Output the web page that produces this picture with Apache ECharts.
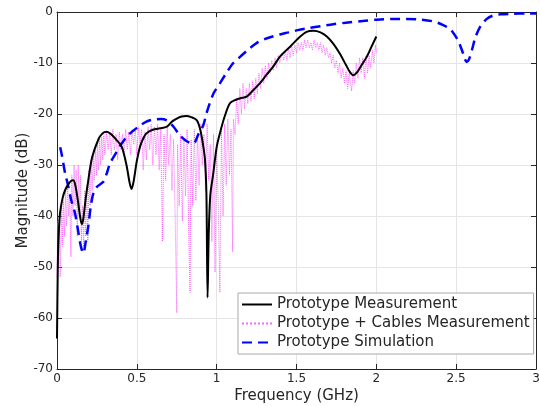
<!DOCTYPE html>
<html><head><meta charset="utf-8">
<script src="https://cdn.jsdelivr.net/npm/echarts@6/dist/echarts.min.js"></script>
<style>html,body{margin:0;padding:0;background:#fff}#c{width:540px;height:406px}</style>
</head><body><div id="c"></div>
<script>
const xTicks = [0, 0.5, 1, 1.5, 2, 2.5, 3];
const yTicks = [-70, -60, -50, -40, -30, -20, -10, 0];

const measFreq = [0,0.005,0.01,0.019,0.035,0.05,0.07,0.09,0.102,0.115,0.13,0.145,0.155,0.165,0.18,0.196,0.22,0.259,0.285,0.311,0.34,0.37,0.405,0.435,0.455,0.467,0.48,0.5,0.52,0.54,0.56,0.6,0.645,0.687,0.72,0.75,0.78,0.81,0.84,0.875,0.895,0.912,0.927,0.936,0.943,0.95,0.96,0.979,1.0,1.02,1.05,1.083,1.12,1.16,1.188,1.23,1.27,1.31,1.354,1.4,1.46,1.52,1.563,1.605,1.65,1.69,1.73,1.77,1.81,1.835,1.855,1.88,1.91,1.94,1.97,2.0];
const measDb = [-64,-50,-44,-39.4,-36.5,-35,-33.8,-33.1,-33,-34,-36.8,-40.2,-41.6,-40.5,-36.5,-33,-28.5,-25,-23.8,-23.5,-24,-25,-26.4,-30,-33.5,-34.7,-33.2,-29.2,-26.4,-24.8,-23.8,-23.1,-22.8,-22.5,-21.5,-20.9,-20.5,-20.4,-20.6,-21.2,-22.8,-25.5,-29,-36,-56,-44,-36,-31.6,-26.5,-23.8,-20.5,-17.9,-17.2,-16.8,-16.6,-15.3,-14,-12.4,-10.7,-8.6,-6.8,-4.9,-3.9,-3.7,-4.0,-4.8,-6.2,-8.1,-10.4,-11.8,-12.4,-11.8,-10.3,-8.8,-6.8,-4.8];

const cableFreq = [0,0.005,0.01,0.015,0.02,0.027,0.033,0.04,0.047,0.053,0.06,0.067,0.073,0.08,0.087,0.093,0.1,0.107,0.113,0.12,0.127,0.133,0.14,0.147,0.153,0.16,0.167,0.173,0.18,0.187,0.193,0.2,0.207,0.213,0.22,0.227,0.233,0.24,0.247,0.253,0.26,0.267,0.273,0.28,0.287,0.293,0.3,0.31,0.32,0.33,0.34,0.35,0.36,0.37,0.38,0.39,0.4,0.41,0.42,0.43,0.44,0.45,0.46,0.47,0.48,0.49,0.5,0.51,0.52,0.53,0.54,0.55,0.56,0.57,0.58,0.59,0.6,0.61,0.62,0.63,0.64,0.65,0.66,0.67,0.68,0.69,0.7,0.71,0.72,0.73,0.74,0.75,0.755,0.765,0.775,0.785,0.795,0.805,0.815,0.825,0.833,0.84,0.85,0.86,0.87,0.88,0.89,0.9,0.91,0.92,0.93,0.94,0.95,0.96,0.97,0.98,0.99,1.0,1.01,1.02,1.03,1.04,1.05,1.06,1.07,1.08,1.09,1.1,1.105,1.115,1.125,1.135,1.145,1.155,1.165,1.175,1.185,1.195,1.205,1.215,1.225,1.235,1.245,1.255,1.265,1.275,1.285,1.295,1.305,1.315,1.325,1.335,1.345,1.355,1.365,1.375,1.385,1.395,1.41,1.42,1.43,1.44,1.45,1.46,1.47,1.48,1.49,1.5,1.51,1.52,1.53,1.54,1.55,1.56,1.57,1.58,1.59,1.6,1.61,1.62,1.63,1.64,1.65,1.66,1.67,1.68,1.69,1.7,1.71,1.72,1.73,1.74,1.75,1.76,1.77,1.78,1.79,1.8,1.81,1.82,1.83,1.845,1.855,1.865,1.875,1.885,1.895,1.905,1.915,1.925,1.935,1.945,1.955,1.965,1.975,1.985,1.995,2.0];
const cableDb = [-52,-41,-50,-40,-52,-38,-46,-37,-44,-35,-42,-33,-40,-36,-48,-32,-40,-30,-38,-31,-44,-30,-40,-32,-45,-38,-46,-35,-44,-34,-45,-31,-38,-29,-35,-28,-33,-27,-32,-26,-31,-25,-30,-24.5,-29,-24,-28,-23.5,-27,-23.5,-28,-23,-27,-24,-29,-23.5,-27,-24,-28,-23,-27,-23.5,-28,-23,-26,-23,-28,-22.5,-26,-23,-31,-23.5,-29,-22.5,-27,-22,-30,-22.5,-28,-22,-31,-23,-45,-24,-33,-22.5,-30,-24,-35,-25,-40,-59,-26,-38,-24,-41,-25,-36,-23,-43,-55,-25,-38,-23,-37,-24,-34,-22,-30,-24,-35,-22,-33,-26,-45,-24,-51,-26,-38,-55,-23,-40,-22,-34,-21,-32,-23,-47,-21,-24,-17,-22,-15,-20,-14,-19,-15,-18,-14,-17.5,-13.5,-17,-13,-16,-12,-15,-11,-14,-10.5,-13,-10,-12,-9.5,-11.5,-9,-11,-8.5,-10,-8,-9.5,-7.5,-9.5,-7,-9,-6.5,-8.5,-6.5,-8,-6,-7.5,-6,-7.5,-5.5,-7,-5.5,-7,-6,-7.5,-5.5,-7,-6,-7.5,-6,-8,-6.5,-8.5,-7,-9,-8,-10,-8.5,-11,-9.5,-12,-10,-13,-11,-14,-11.5,-15,-12,-15.5,-11.5,-14,-10,-13,-9,-12,-9,-13,-8.5,-12,-8.5,-11,-7.5,-10,-6.5,-8];

const simFreq = [0.02,0.03,0.05,0.071,0.09,0.113,0.13,0.15,0.165,0.18,0.196,0.212,0.228,0.25,0.29,0.31,0.332,0.37,0.405,0.45,0.51,0.56,0.6,0.65,0.69,0.73,0.77,0.81,0.854,0.885,0.916,0.94,0.98,1.02,1.06,1.104,1.15,1.2,1.25,1.3,1.35,1.396,1.45,1.5,1.563,1.65,1.73,1.81,1.9,2.0,2.1,2.19,2.28,2.35,2.4,2.45,2.48,2.51,2.534,2.555,2.565,2.58,2.6,2.62,2.65,2.69,2.73,2.78,2.85,2.95,3.0];
const simDb = [-26.5,-28,-31.5,-34.2,-37,-39.5,-42.5,-46,-47.3,-45,-42,-38,-35.5,-34.3,-33.3,-31.8,-29.7,-27.6,-25.8,-24,-22.5,-21.5,-21.1,-21,-21.3,-22.5,-24.2,-25.3,-25.8,-24,-22.2,-19.5,-16,-14,-12,-10,-8.7,-7.3,-6.1,-5.3,-4.8,-4.4,-4,-3.6,-3.2,-2.8,-2.4,-2.1,-1.8,-1.5,-1.35,-1.35,-1.5,-1.8,-2.3,-3.1,-4,-5.5,-7.3,-9.2,-9.8,-9.3,-7.3,-5,-2.9,-1.4,-0.7,-0.45,-0.35,-0.3,-0.3];

const zip = (a, b) => a.map((x, i) => [x, b[i]]);
const FONT = 'DejaVu Sans';
const txt = '#262626';
function axLine() { return {show: true, onZero: false, lineStyle: {color: '#262626', width: 1}}; }
function axTick() { return {show: true, inside: true, length: 5, lineStyle: {color: '#262626', width: 1}}; }
const chart = echarts.init(document.getElementById('c'), null, {renderer: 'canvas'});
chart.setOption({
  animation: false,
  backgroundColor: '#fff',
  grid: {left: 57, right: 4, top: 12, bottom: 37, show: false, containLabel: false, outerBoundsMode: 'none'},
  xAxis: [{
    type: 'value', position: 'bottom', min: xTicks[0], max: xTicks[xTicks.length - 1], interval: 0.5,
    name: 'Frequency (GHz)', nameLocation: 'middle', nameGap: 20, nameMoveOverlap: false,
    nameTextStyle: {fontFamily: FONT, fontSize: 15, color: txt},
    axisLabel: {fontFamily: FONT, fontSize: 12, color: txt, margin: 4},
    splitLine: {show: true, lineStyle: {color: '#e5e5e5'}},
    axisLine: axLine(), axisTick: axTick()
  }, {
    type: 'value', position: 'top', min: 0, max: 3, interval: 0.5,
    axisLabel: {show: false}, splitLine: {show: false},
    axisLine: axLine(), axisTick: axTick()
  }],
  yAxis: [{
    type: 'value', position: 'left', min: yTicks[0], max: yTicks[yTicks.length - 1], interval: 10,
    name: 'Magnitude (dB)', nameLocation: 'middle', nameGap: 26, nameMoveOverlap: false,
    nameTextStyle: {fontFamily: FONT, fontSize: 15, color: txt},
    axisLabel: {fontFamily: FONT, fontSize: 12, color: txt, margin: 4},
    splitLine: {show: true, lineStyle: {color: '#e5e5e5'}},
    axisLine: axLine(), axisTick: axTick()
  }, {
    type: 'value', position: 'right', min: -70, max: 0, interval: 10,
    axisLabel: {show: false}, splitLine: {show: false},
    axisLine: axLine(), axisTick: axTick()
  }],
  legend: {
    left: 238, top: 293, orient: 'vertical',
    backgroundColor: '#fff', borderColor: '#a8a8a8', borderWidth: 1,
    padding: [4, 4, 4, 3], itemGap: 4, itemWidth: 30, itemHeight: 15,
    itemStyle: {color: 'rgba(0,0,0,0)', borderColor: 'rgba(0,0,0,0)', borderWidth: 0, opacity: 0},
    textStyle: {fontFamily: FONT, fontSize: 15, color: txt},
    data: ['Prototype Measurement', 'Prototype + Cables Measurement', 'Prototype Simulation']
  },
  series: [
    {name: 'Prototype + Cables Measurement', type: 'line', data: zip(cableFreq, cableDb),
     showSymbol: false, symbol: 'none', z: 1,
     lineStyle: {color: '#ff40ff', width: 1, type: 'dotted', opacity: 0.8}, itemStyle: {color: '#ff40ff'}},
    {name: 'Prototype Simulation', type: 'line', data: zip(simFreq, simDb),
     showSymbol: false, symbol: 'none', smooth: 0.3, z: 2,
     lineStyle: {color: '#0000ff', width: 2.5, type: [10, 6]}, itemStyle: {color: '#0000ff'}},
    {name: 'Prototype Measurement', type: 'line', data: zip(measFreq, measDb),
     showSymbol: false, symbol: 'none', smooth: 0.3, z: 3,
     lineStyle: {color: '#000000', width: 2}, itemStyle: {color: '#000000'}}
  ]
});
</script></body></html>
